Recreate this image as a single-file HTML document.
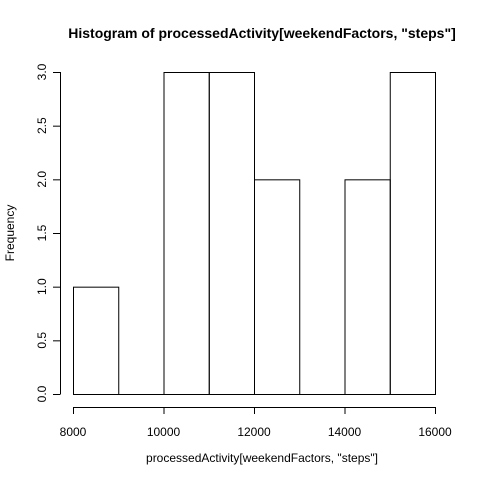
<!DOCTYPE html>
<html><head><meta charset="utf-8"><style>
html,body{margin:0;padding:0;background:#fff}
svg text{font-family:"Liberation Sans",Arial,sans-serif;fill:#000}
</style></head><body>
<svg width="480" height="480" viewBox="0 0 480 480">
<text x="262" y="38" text-anchor="middle" font-size="14" font-weight="bold">Histogram of processedActivity[weekendFactors, "steps"]</text>
<text x="262" y="462" text-anchor="middle" font-size="12">processedActivity[weekendFactors, "steps"]</text>
<text transform="translate(14,233) rotate(-90)" text-anchor="middle" font-size="12">Frequency</text>
<g id="bars"></g>
<g id="xaxis"></g>
<g id="yaxis"></g>
</svg>
<script>
const breaks = [8000,9000,10000,11000,12000,13000,14000,15000,16000];
const counts = [1,0,3,3,2,0,2,3];
const xTicks = [8000,10000,12000,14000,16000];
const yTicks = [0,0.5,1,1.5,2,2.5,3];
const yTickLabels = ["0.0","0.5","1.0","1.5","2.0","2.5","3.0"];
const NS="http://www.w3.org/2000/svg";
function sx(v){return 73+(v-8000)*(435-73)/8000;}
function sy(v){return 394-v*(394-72)/3;}
function mk(t,a,p){const e=document.createElementNS(NS,t);for(const k in a)e.setAttribute(k,a[k]);p.appendChild(e);return e;}
const bars=document.getElementById('bars');
counts.forEach((c,i)=>{
  const x0=sx(breaks[i]),x1=sx(breaks[i+1]);
  const r=mk('rect',{x:x0+0.5,y:sy(c)+0.5,width:x1-x0,height:Math.max(0,sy(0)-sy(c)),fill:'none',stroke:'#000','stroke-width':1},bars);
  
  
  if(c===0){const l=mk('line',{x1:x0,x2:x1,y1:sy(0)+0.5,y2:sy(0)+0.5,stroke:'#000'},bars);}
});
const xa=document.getElementById('xaxis');
mk('line',{x1:sx(8000),x2:sx(16000),y1:407.5,y2:407.5,stroke:'#000'},xa);
xTicks.forEach(v=>{
  mk('line',{x1:sx(v)+0.5,x2:sx(v)+0.5,y1:407,y2:414,stroke:'#000'},xa);
  const t=mk('text',{x:sx(v),y:436,'text-anchor':'middle','font-size':12},xa);t.textContent=v;
  
  
});
const ya=document.getElementById('yaxis');
mk('line',{x1:60.5,x2:60.5,y1:sy(0),y2:sy(3),stroke:'#000'},ya);
yTicks.forEach((v,i)=>{
  mk('line',{x1:53,x2:60.5,y1:sy(v)+0.5,y2:sy(v)+0.5,stroke:'#000'},ya);
  const t=mk('text',{transform:`translate(46,${sy(v)}) rotate(-90)`,'text-anchor':'middle','font-size':12},ya);t.textContent=yTickLabels[i];
  
  
});
</script>
</body></html>
